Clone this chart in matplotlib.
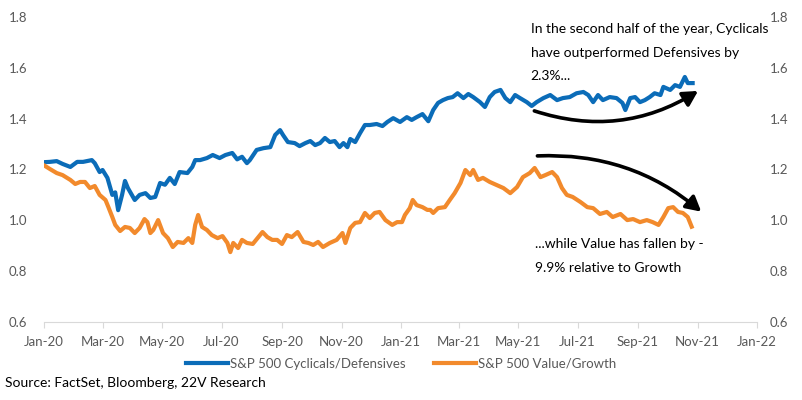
import matplotlib
matplotlib.use('Agg')
import matplotlib.pyplot as plt
import matplotlib.dates as mdates
from matplotlib.patches import FancyArrowPatch
import pandas as pd

plt.rcParams['font.family'] = ['Lato', 'DejaVu Sans']

# S&P 500 Cyclicals/Defensives
cyc_dates = ['2020-01-02', '2020-01-07', '2020-01-14', '2020-01-20', '2020-01-28', '2020-02-04',
             '2020-02-10', '2020-02-19', '2020-02-22', '2020-02-27', '2020-03-01', '2020-03-06',
             '2020-03-11', '2020-03-14', '2020-03-17', '2020-03-21', '2020-03-24', '2020-03-27',
             '2020-04-03', '2020-04-08', '2020-04-14', '2020-04-19', '2020-04-24', '2020-04-29',
             '2020-05-04', '2020-05-09', '2020-05-14', '2020-05-19', '2020-05-27', '2020-06-01',
             '2020-06-04', '2020-06-09', '2020-06-16', '2020-06-22', '2020-06-29', '2020-07-05',
             '2020-07-12', '2020-07-17', '2020-07-22', '2020-07-27', '2020-07-30', '2020-08-06',
             '2020-08-13', '2020-08-20', '2020-08-25', '2020-08-30', '2020-09-02', '2020-09-07',
             '2020-09-14', '2020-09-19', '2020-09-25', '2020-09-30', '2020-10-05', '2020-10-10',
             '2020-10-15', '2020-10-20', '2020-10-25', '2020-10-30', '2020-11-03', '2020-11-07',
             '2020-11-10', '2020-11-15', '2020-11-20', '2020-11-25', '2020-11-30', '2020-12-07',
             '2020-12-13', '2020-12-18', '2020-12-24', '2020-12-31', '2021-01-07', '2021-01-12',
             '2021-01-17', '2021-01-23', '2021-01-29', '2021-02-03', '2021-02-08', '2021-02-13',
             '2021-02-18', '2021-02-23', '2021-02-28', '2021-03-06', '2021-03-11', '2021-03-16',
             '2021-03-23', '2021-03-28', '2021-04-02', '2021-04-07', '2021-04-13', '2021-04-18',
             '2021-04-23', '2021-04-28', '2021-05-03', '2021-05-10', '2021-05-15', '2021-05-20',
             '2021-05-27', '2021-06-03', '2021-06-10', '2021-06-16', '2021-06-23', '2021-06-30',
             '2021-07-07', '2021-07-12', '2021-07-17', '2021-07-22', '2021-07-27', '2021-08-03',
             '2021-08-10', '2021-08-16', '2021-08-19', '2021-08-24', '2021-08-29', '2021-09-03',
             '2021-09-08', '2021-09-13', '2021-09-18', '2021-09-24', '2021-09-27', '2021-10-04',
             '2021-10-09', '2021-10-14', '2021-10-19', '2021-10-22', '2021-10-27']
cyc_values = [1.229, 1.230, 1.233, 1.222, 1.210, 1.230,
              1.230, 1.237, 1.225, 1.190, 1.198, 1.167,
              1.100, 1.110, 1.040, 1.100, 1.155, 1.127,
              1.080, 1.100, 1.107, 1.088, 1.092, 1.147,
              1.140, 1.167, 1.143, 1.190, 1.186, 1.210,
              1.237, 1.237, 1.245, 1.257, 1.245, 1.257,
              1.265, 1.240, 1.250, 1.225, 1.237, 1.277,
              1.284, 1.288, 1.336, 1.355, 1.336, 1.308,
              1.304, 1.292, 1.304, 1.312, 1.296, 1.304,
              1.324, 1.308, 1.312, 1.288, 1.304, 1.288,
              1.320, 1.308, 1.343, 1.375, 1.375, 1.379,
              1.371, 1.387, 1.402, 1.387, 1.406, 1.395,
              1.406, 1.418, 1.390, 1.434, 1.462, 1.473,
              1.481, 1.485, 1.500, 1.481, 1.497, 1.485,
              1.465, 1.446, 1.485, 1.505, 1.513, 1.481,
              1.465, 1.493, 1.481, 1.465, 1.450, 1.465,
              1.481, 1.493, 1.473, 1.481, 1.485, 1.500,
              1.505, 1.493, 1.465, 1.493, 1.473, 1.485,
              1.481, 1.462, 1.434, 1.481, 1.485, 1.465,
              1.473, 1.485, 1.500, 1.493, 1.525, 1.513,
              1.532, 1.525, 1.564, 1.540, 1.540]

# S&P 500 Value/Growth
val_dates = ['2020-01-02', '2020-01-07', '2020-01-14', '2020-01-20', '2020-01-28', '2020-02-02',
             '2020-02-07', '2020-02-12', '2020-02-17', '2020-02-22', '2020-02-27', '2020-03-04',
             '2020-03-07', '2020-03-11', '2020-03-14', '2020-03-19', '2020-03-24', '2020-03-29',
             '2020-04-03', '2020-04-08', '2020-04-13', '2020-04-16', '2020-04-19', '2020-04-22',
             '2020-04-27', '2020-05-02', '2020-05-07', '2020-05-12', '2020-05-17', '2020-05-23',
             '2020-05-28', '2020-06-01', '2020-06-04', '2020-06-07', '2020-06-11', '2020-06-16',
             '2020-06-21', '2020-06-27', '2020-07-02', '2020-07-07', '2020-07-10', '2020-07-13',
             '2020-07-18', '2020-07-22', '2020-07-27', '2020-08-02', '2020-08-12', '2020-08-17',
             '2020-08-22', '2020-08-27', '2020-09-01', '2020-09-06', '2020-09-11', '2020-09-17',
             '2020-09-23', '2020-09-28', '2020-10-03', '2020-10-08', '2020-10-13', '2020-10-20',
             '2020-10-27', '2020-11-02', '2020-11-05', '2020-11-10', '2020-11-15', '2020-11-20',
             '2020-11-25', '2020-11-30', '2020-12-05', '2020-12-10', '2020-12-16', '2020-12-23',
             '2020-12-28', '2021-01-02', '2021-01-05', '2021-01-10', '2021-01-13', '2021-01-17',
             '2021-01-23', '2021-01-28', '2021-01-31', '2021-02-03', '2021-02-08', '2021-02-15',
             '2021-02-20', '2021-02-25', '2021-03-03', '2021-03-08', '2021-03-13', '2021-03-16',
             '2021-03-21', '2021-03-26', '2021-04-02', '2021-04-09', '2021-04-16', '2021-04-23',
             '2021-04-30', '2021-05-06', '2021-05-13', '2021-05-18', '2021-05-24', '2021-05-29',
             '2021-06-05', '2021-06-10', '2021-06-15', '2021-06-20', '2021-06-26', '2021-07-04',
             '2021-07-11', '2021-07-17', '2021-07-24', '2021-07-31', '2021-08-06', '2021-08-14',
             '2021-08-21', '2021-08-27', '2021-09-03', '2021-09-10', '2021-09-16', '2021-09-22',
             '2021-09-27', '2021-10-02', '2021-10-07', '2021-10-12', '2021-10-17', '2021-10-22',
             '2021-10-26']
val_values = [1.214, 1.202, 1.186, 1.178, 1.159, 1.143,
              1.151, 1.151, 1.127, 1.135, 1.100, 1.080,
              1.052, 1.013, 0.982, 0.958, 0.974, 0.970,
              0.950, 0.970, 1.005, 0.993, 0.950, 0.962,
              1.001, 0.950, 0.930, 0.895, 0.915, 0.911,
              0.930, 0.911, 0.982, 1.021, 0.974, 0.962,
              0.942, 0.930, 0.938, 0.911, 0.875, 0.911,
              0.891, 0.923, 0.911, 0.907, 0.954, 0.934,
              0.923, 0.923, 0.907, 0.942, 0.934, 0.954,
              0.915, 0.911, 0.903, 0.915, 0.895, 0.911,
              0.923, 0.950, 0.911, 0.970, 0.990, 0.993,
              1.029, 1.009, 1.029, 1.033, 1.001, 0.982,
              0.993, 0.993, 1.021, 1.048, 1.080, 1.060,
              1.052, 1.041, 1.041, 1.029, 1.048, 1.052,
              1.080, 1.107, 1.147, 1.198, 1.178, 1.198,
              1.159, 1.167, 1.151, 1.139, 1.127, 1.107,
              1.131, 1.170, 1.186, 1.206, 1.170, 1.178,
              1.190, 1.170, 1.127, 1.100, 1.092, 1.072,
              1.052, 1.048, 1.025, 1.033, 1.013, 1.025,
              1.001, 1.005, 0.993, 1.001, 0.993, 0.982,
              1.013, 1.048, 1.052, 1.033, 1.029, 1.013,
              0.975]

y_ticks = [0.6, 0.8, 1.0, 1.2, 1.4, 1.6, 1.8]

blue = '#0b6cb8'
orange = '#f28a2c'
grey = '#595959'

fig = plt.figure(figsize=(8.02, 4.0), dpi=100)
ax = fig.add_axes([0.0549, 0.195, 0.889, 0.7625])

ax.plot(pd.to_datetime(cyc_dates), cyc_values, color=blue, lw=3,
        label='S&P 500 Cyclicals/Defensives', solid_joinstyle='round')
ax.plot(pd.to_datetime(val_dates), val_values, color=orange, lw=3,
        label='S&P 500 Value/Growth', solid_joinstyle='round')

ax.set_xlim(pd.Timestamp('2020-01-01'), pd.Timestamp('2022-01-01'))
ax.set_ylim(0.6, 1.8)
ax.set_yticks(y_ticks)
ax.set_yticklabels(['%.1f' % t for t in y_ticks])
ax.xaxis.set_major_locator(mdates.MonthLocator(bymonth=[1, 3, 5, 7, 9, 11]))
ax.xaxis.set_major_formatter(mdates.DateFormatter('%b-%y'))

for s in ['top', 'right', 'left']:
    ax.spines[s].set_visible(False)
ax.spines['bottom'].set_color('#d9d9d9')
ax.tick_params(axis='x', colors='#d9d9d9', length=4, labelcolor=grey, labelsize=9.5, pad=6)
ax.tick_params(axis='y', length=0, labelcolor=grey, labelsize=9.5, pad=12)

ax2 = ax.twinx()
ax2.set_ylim(ax.get_ylim())
ax2.set_yticks(y_ticks)
ax2.set_yticklabels(['%.1f' % t for t in y_ticks])
for s in ['top', 'right', 'left', 'bottom']:
    ax2.spines[s].set_visible(False)
ax2.tick_params(axis='y', length=0, labelcolor=grey, labelsize=9.5, pad=9)

# annotations
ax.text(pd.Timestamp('2021-05-14'), 1.775,
        'In the second half of the year, Cyclicals\nhave outperformed Defensives by\n2.3%...',
        fontsize=10, va='top', ha='left', linespacing=2.15, color='black')
ax.text(pd.Timestamp('2021-05-18'), 0.93,
        '...while Value has fallen by -\n9.9% relative to Growth',
        fontsize=10, va='top', ha='left', linespacing=2.15, color='black')

head = '-|>,head_length=0.55,head_width=0.3'
arr1 = FancyArrowPatch((mdates.date2num(pd.Timestamp('2021-05-15')), 1.434),
                       (mdates.date2num(pd.Timestamp('2021-11-04')), 1.515),
                       connectionstyle='arc3,rad=0.24', arrowstyle=head,
                       mutation_scale=16, lw=2.6, color='black', zorder=5)
arr2 = FancyArrowPatch((mdates.date2num(pd.Timestamp('2021-05-18')), 1.253),
                       (mdates.date2num(pd.Timestamp('2021-11-07')), 1.027),
                       connectionstyle='arc3,rad=-0.2', arrowstyle=head,
                       mutation_scale=16, lw=2.6, color='black', zorder=5)
ax.add_patch(arr1)
ax.add_patch(arr2)

leg = fig.legend(loc='center', bbox_to_anchor=(0.5, 0.09), ncol=2, frameon=False,
                 fontsize=9.5, handlelength=3.2, handletextpad=0.1, columnspacing=2.2)
for t in leg.get_texts():
    t.set_color(grey)

fig.text(0.006, 0.043, 'Source: FactSet, Bloomberg, 22V Research', fontsize=10,
         color='black', va='center', ha='left')

fig.savefig('out.png', dpi=100)
